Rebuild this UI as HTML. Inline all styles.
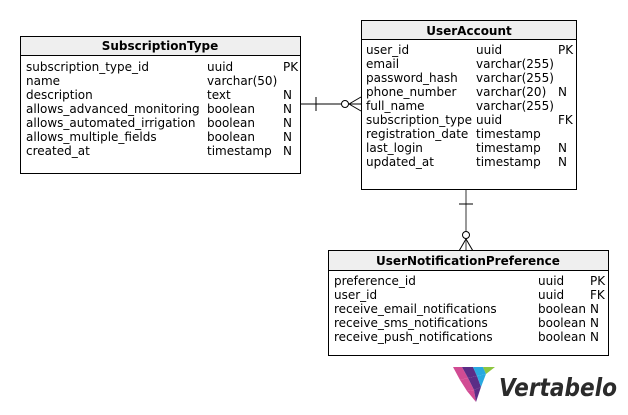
<!DOCTYPE html>
<html><head><meta charset="utf-8"><style>
html,body{margin:0;padding:0;background:#fff;}
svg{display:block;font-family:"DejaVu Sans","Liberation Sans",sans-serif;}
.t{font-size:12px;fill:#000;}
.h{font-size:12px;font-weight:bold;fill:#000;}
</style></head><body>
<svg width="628" height="415" viewBox="0 0 628 415" xmlns="http://www.w3.org/2000/svg">
<g stroke="#000" stroke-width="1" fill="none">
<line x1="300" y1="104" x2="361" y2="104"/>
<line x1="316" y1="97" x2="316" y2="111"/>
<circle cx="345" cy="104" r="3.5" fill="#fff"/>
<line x1="349" y1="104" x2="361" y2="97"/>
<line x1="349" y1="104" x2="361" y2="111"/>
</g>
<g stroke="#777" stroke-width="1.5" fill="none">
<line x1="466" y1="189" x2="466" y2="231"/>
<line x1="466" y1="239" x2="466" y2="251"/>
</g>
<g stroke="#000" stroke-width="1" fill="none">
<line x1="459" y1="204" x2="473" y2="204"/>
<circle cx="466" cy="235" r="3.5" fill="#fff"/>
<line x1="466" y1="239" x2="459" y2="251"/>
<line x1="466" y1="239" x2="473" y2="251"/>
</g>

<rect x="20.5" y="36.5" width="280" height="137" fill="#fff" stroke="#000"/>
<rect x="20.5" y="36.5" width="280" height="19" fill="#efefef" stroke="#000"/>
<text class="h" x="160" y="50" text-anchor="middle">SubscriptionType</text>
<g class="t">
<text x="26" y="71">subscription_type_id</text><text x="207" y="71">uuid</text><text x="283" y="71">PK</text>
<text x="26" y="85">name</text><text x="207" y="85">varchar(50)</text>
<text x="26" y="99">description</text><text x="207" y="99">text</text><text x="283" y="99">N</text>
<text x="26" y="113">allows_advanced_monitoring</text><text x="207" y="113">boolean</text><text x="283" y="113">N</text>
<text x="26" y="127">allows_automated_irrigation</text><text x="207" y="127">boolean</text><text x="283" y="127">N</text>
<text x="26" y="141">allows_multiple_fields</text><text x="207" y="141">boolean</text><text x="283" y="141">N</text>
<text x="26" y="155">created_at</text><text x="207" y="155">timestamp</text><text x="283" y="155">N</text>
</g>

<rect x="361.5" y="20.5" width="215" height="169" fill="#fff" stroke="#000"/>
<rect x="361.5" y="20.5" width="215" height="19" fill="#efefef" stroke="#000"/>
<text class="h" x="469" y="35" text-anchor="middle">UserAccount</text>
<g class="t">
<text x="366" y="54">user_id</text><text x="476" y="54">uuid</text><text x="558" y="54">PK</text>
<text x="366" y="68">email</text><text x="476" y="68">varchar(255)</text>
<text x="366" y="82">password_hash</text><text x="476" y="82">varchar(255)</text>
<text x="366" y="96">phone_number</text><text x="476" y="96">varchar(20)</text><text x="558" y="96">N</text>
<text x="366" y="110">full_name</text><text x="476" y="110">varchar(255)</text>
<text x="366" y="124">subscription_type</text><text x="476" y="124">uuid</text><text x="558" y="124">FK</text>
<text x="366" y="138">registration_date</text><text x="476" y="138">timestamp</text>
<text x="366" y="152">last_login</text><text x="476" y="152">timestamp</text><text x="558" y="152">N</text>
<text x="366" y="166">updated_at</text><text x="476" y="166">timestamp</text><text x="558" y="166">N</text>
</g>

<rect x="328.5" y="250.5" width="280" height="105" fill="#fff" stroke="#000"/>
<rect x="328.5" y="250.5" width="280" height="20" fill="#efefef" stroke="#000"/>
<text class="h" x="468" y="265" text-anchor="middle">UserNotificationPreference</text>
<g class="t">
<text x="334" y="285">preference_id</text><text x="538" y="285">uuid</text><text x="590" y="285">PK</text>
<text x="334" y="299">user_id</text><text x="538" y="299">uuid</text><text x="590" y="299">FK</text>
<text x="334" y="313">receive_email_notifications</text><text x="538" y="313">boolean</text><text x="590" y="313">N</text>
<text x="334" y="327">receive_sms_notifications</text><text x="538" y="327">boolean</text><text x="590" y="327">N</text>
<text x="334" y="341">receive_push_notifications</text><text x="538" y="341">boolean</text><text x="590" y="341">N</text>
</g>

<g>
<polygon points="453,367 462,367 468,378 460,380" fill="#d14b93"/>
<polygon points="462,367 473,367 477,376 468,378" fill="#5b2d86"/>
<polygon points="473,367 483,367 486,374 477,376" fill="#29a9e0"/>
<polygon points="483,367 495,367 486,374" fill="#8dc63f"/>
<polygon points="460,380 468,378 474,390 467,391" fill="#d14b93"/>
<polygon points="468,378 477,376 481,387 474,390" fill="#5b2d86"/>
<polygon points="477,376 486,374 481,387" fill="#29a9e0"/>
<polygon points="467,391 474,390 476,402" fill="#d14b93"/>
<polygon points="474,390 481,387 476,402" fill="#5b2d86"/>
</g>
<text x="499" y="396" font-family="'DejaVu Sans','Liberation Sans',sans-serif" font-size="25" font-style="italic" font-weight="bold" fill="#2b2b2b" textLength="118" lengthAdjust="spacingAndGlyphs">Vertabelo</text>
</svg>
</body></html>
